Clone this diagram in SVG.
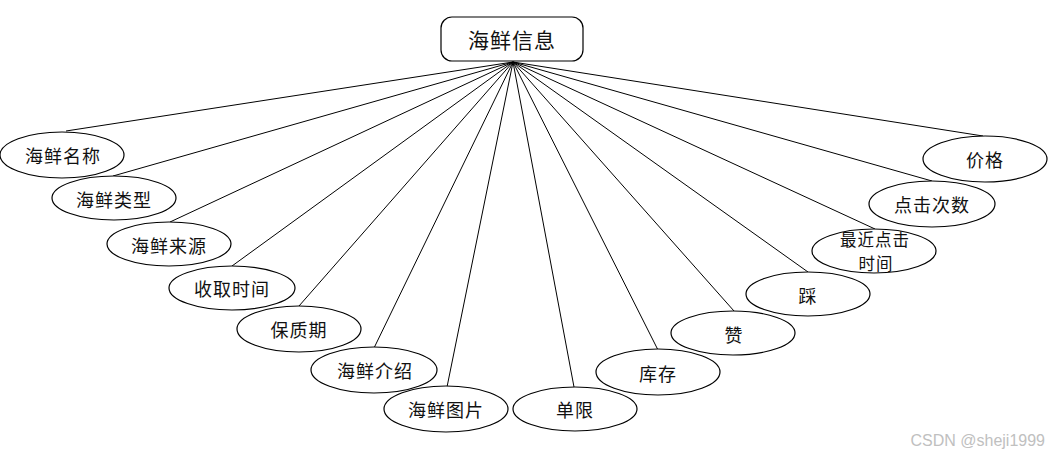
<svg xmlns="http://www.w3.org/2000/svg" width="1051" height="456" viewBox="0 0 1051 456">
<style>
.n ellipse{fill:#fff;stroke:#000;stroke-width:1.2}
.t{font-family:"Noto Sans CJK SC","Liberation Sans",sans-serif;font-size:18px;letter-spacing:1px;fill:#111;text-anchor:middle;dominant-baseline:central}
.s{font-size:16.5px}
.c line{stroke:#000;stroke-width:1}
</style>
<rect width="1051" height="456" fill="#fff"/>
<g class="c" id="connectors">
<line x1="513" y1="62" x2="66" y2="131"/>
<line x1="513" y1="62" x2="113" y2="176"/>
<line x1="513" y1="62" x2="170" y2="222"/>
<line x1="513" y1="62" x2="232" y2="266"/>
<line x1="513" y1="62" x2="299" y2="306"/>
<line x1="513" y1="62" x2="374" y2="348"/>
<line x1="513" y1="62" x2="447" y2="387"/>
<line x1="513" y1="62" x2="574" y2="387"/>
<line x1="513" y1="62" x2="658" y2="350"/>
<line x1="513" y1="62" x2="734" y2="311"/>
<line x1="513" y1="62" x2="808" y2="272"/>
<line x1="513" y1="62" x2="875" y2="229"/>
<line x1="513" y1="62" x2="932" y2="181"/>
<line x1="513" y1="62" x2="983" y2="136"/>
</g>
<g id="root">
<rect x="441" y="17" width="142" height="44" rx="11" fill="#fff" stroke="#000" stroke-width="1.2"/>
<text class="t" x="512" y="39" style="font-size:21px">海鲜信息</text>
</g>
<g class="n" id="n1"><ellipse cx="62" cy="155" rx="62" ry="23"/><text class="t" x="63" y="155">海鲜名称</text></g>
<g class="n" id="n2"><ellipse cx="114" cy="198" rx="62" ry="22"/><text class="t" x="114" y="199">海鲜类型</text></g>
<g class="n" id="n3"><ellipse cx="169" cy="244" rx="62" ry="22"/><text class="t" x="169" y="245">海鲜来源</text></g>
<g class="n" id="n4"><ellipse cx="232" cy="288" rx="63" ry="22"/><text class="t" x="232" y="288">收取时间</text></g>
<g class="n" id="n5"><ellipse cx="299" cy="329" rx="62" ry="23"/><text class="t" x="299" y="329">保质期</text></g>
<g class="n" id="n6"><ellipse cx="374" cy="370" rx="63" ry="23"/><text class="t" x="375" y="370">海鲜介绍</text></g>
<g class="n" id="n7"><ellipse cx="446" cy="409" rx="62" ry="23"/><text class="t" x="446" y="409">海鲜图片</text></g>
<g class="n" id="n8"><ellipse cx="575" cy="409" rx="62" ry="22"/><text class="t" x="575" y="409">单限</text></g>
<g class="n" id="n9"><ellipse cx="658" cy="372" rx="62" ry="23"/><text class="t" x="658" y="373">库存</text></g>
<g class="n" id="n10"><ellipse cx="733" cy="333" rx="62" ry="22"/><text class="t" x="734" y="334">赞</text></g>
<g class="n" id="n11"><ellipse cx="808" cy="294" rx="62" ry="22"/><text class="t" x="808" y="295">踩</text></g>
<g class="n" id="n12"><ellipse cx="874" cy="251" rx="62" ry="22"/><text class="t s" x="875" y="239">最近点击</text><text class="t s" x="876" y="263">时间</text></g>
<g class="n" id="n13"><ellipse cx="932" cy="204" rx="63" ry="23"/><text class="t" x="932" y="204">点击次数</text></g>
<g class="n" id="n14"><ellipse cx="985" cy="159" rx="62" ry="23"/><text class="t" x="985" y="159">价格</text></g>
<text x="1045" y="446" style="font-family:'Liberation Sans',sans-serif;font-size:16px;fill:#c0c0c0;text-anchor:end">CSDN @sheji1999</text>
</svg>
